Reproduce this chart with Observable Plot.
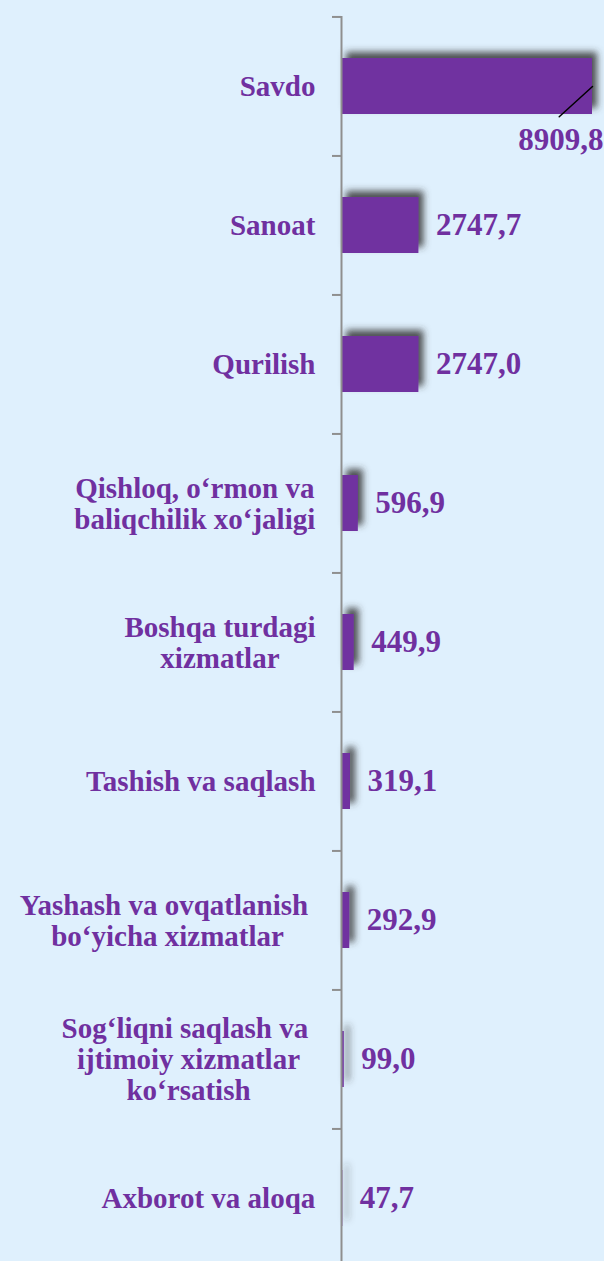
<!DOCTYPE html>
<html>
<head>
<meta charset="utf-8">
<script src="https://cdn.jsdelivr.net/npm/d3@7"></script>
<script src="https://cdn.jsdelivr.net/npm/@observablehq/plot@0.6"></script>
<style>
  html, body { margin: 0; padding: 0; background: #dff0fd; }
  #chart { width: 604px; height: 1261px; overflow: hidden; }
</style>
</head>
<body>
<div id="chart"></div>
<script>
// ---- data ----
const categories = [
  "Savdo",
  "Sanoat",
  "Qurilish",
  "Qishloq, o‘rmon va\nbaliqchilik xo‘jaligi",
  "Boshqa turdagi\nxizmatlar",
  "Tashish va saqlash",
  "Yashash va ovqatlanish\u00a0\nbo‘yicha xizmatlar",
  "Sog‘liqni saqlash va\u00a0\nijtimoiy xizmatlar\nko‘rsatish",
  "Axborot va aloqa"
];
const values = [8909.8, 2747.7, 2747.0, 596.9, 449.9, 319.1, 292.9, 99.0, 47.7];

// ---- build ----
const data = categories.map((c, i) => ({category: c, value: values[i]}));
const maxValue = d3.max(values);
const fmt = v => v.toFixed(1).replace(".", ",");
const purple = "#7030a0";
const axisGray = "#8f8f8f";
const serif = "'Liberation Serif', 'Times New Roman', serif";
const yTop = 16, yBottom = 1268;
const step = (yBottom - yTop) / categories.length;

const leader = {
  draw(context, l) { context.moveTo(0, 0); context.lineTo(0, -l); }
};

const chart = Plot.plot({
  width: 604,
  height: 1261,
  marginLeft: 341,
  marginRight: 12,
  marginTop: 16,
  marginBottom: 0,
  style: {background: "transparent", overflow: "visible"},
  x: {domain: [0, maxValue], axis: null},
  y: {domain: categories, range: [yTop, yBottom], padding: 0.6, paddingOuter: 0.3, axis: null},
  marks: [
    Plot.barX(data, {x: "value", y: "category", fill: purple}),
    Plot.ruleX([0], {stroke: axisGray, strokeWidth: 2}),
    Plot.ruleY(categories, {y: d => d, x1: 0, x2: 0, insetLeft: -9, dy: -step / 2, stroke: axisGray, strokeWidth: 2}),
    Plot.text(data, {
      x: 0, y: "category", text: "category", textAnchor: "end", dx: -26,
      fill: purple, fontFamily: serif, fontWeight: "bold", fontSize: 29, lineHeight: 1.07
    }),
    Plot.text(data.filter(d => d.value < maxValue), {
      x: "value", y: "category", text: d => fmt(d.value), textAnchor: "start", dx: 17,
      fill: purple, fontFamily: serif, fontWeight: "bold", fontSize: 31
    }),
    Plot.text(data.filter(d => d.value === maxValue), {
      x: "value", y: "category", text: d => fmt(d.value), textAnchor: "end", dx: 11, dy: 54,
      fill: purple, fontFamily: serif, fontWeight: "bold", fontSize: 31
    }),
    Plot.vector(data.filter(d => d.value === maxValue), {
      x: "value", y: "category", length: 45, rotate: 227.7, anchor: "start",
      shape: leader, stroke: "#000", strokeWidth: 1.5
    })
  ]
});

document.getElementById("chart").appendChild(chart);

// shadow filter for bars
const svg = d3.select(chart);
const defs = svg.insert("defs", ":first-child");
const f = defs.append("filter").attr("id", "barShadow")
  .attr("filterUnits", "userSpaceOnUse")
  .attr("x", 0).attr("y", 0).attr("width", 604).attr("height", 1261);
f.append("feDropShadow").attr("dx", 5).attr("dy", -6).attr("stdDeviation", 3.5)
  .attr("flood-color", "#333").attr("flood-opacity", 0.85);
svg.selectAll('g[aria-label="bar"] rect').attr("filter", "url(#barShadow)");

// center multi-line category labels within their right-aligned box
const textGroups = svg.selectAll('g[aria-label="text"]').nodes();
d3.select(textGroups[0]).selectAll("text").each(function() {
  const w = this.getBBox().width;
  this.setAttribute("text-anchor", "middle");
  this.setAttribute("transform", (this.getAttribute("transform") || "") + ` translate(${-w / 2},0)`);
});
</script>
</body>
</html>
